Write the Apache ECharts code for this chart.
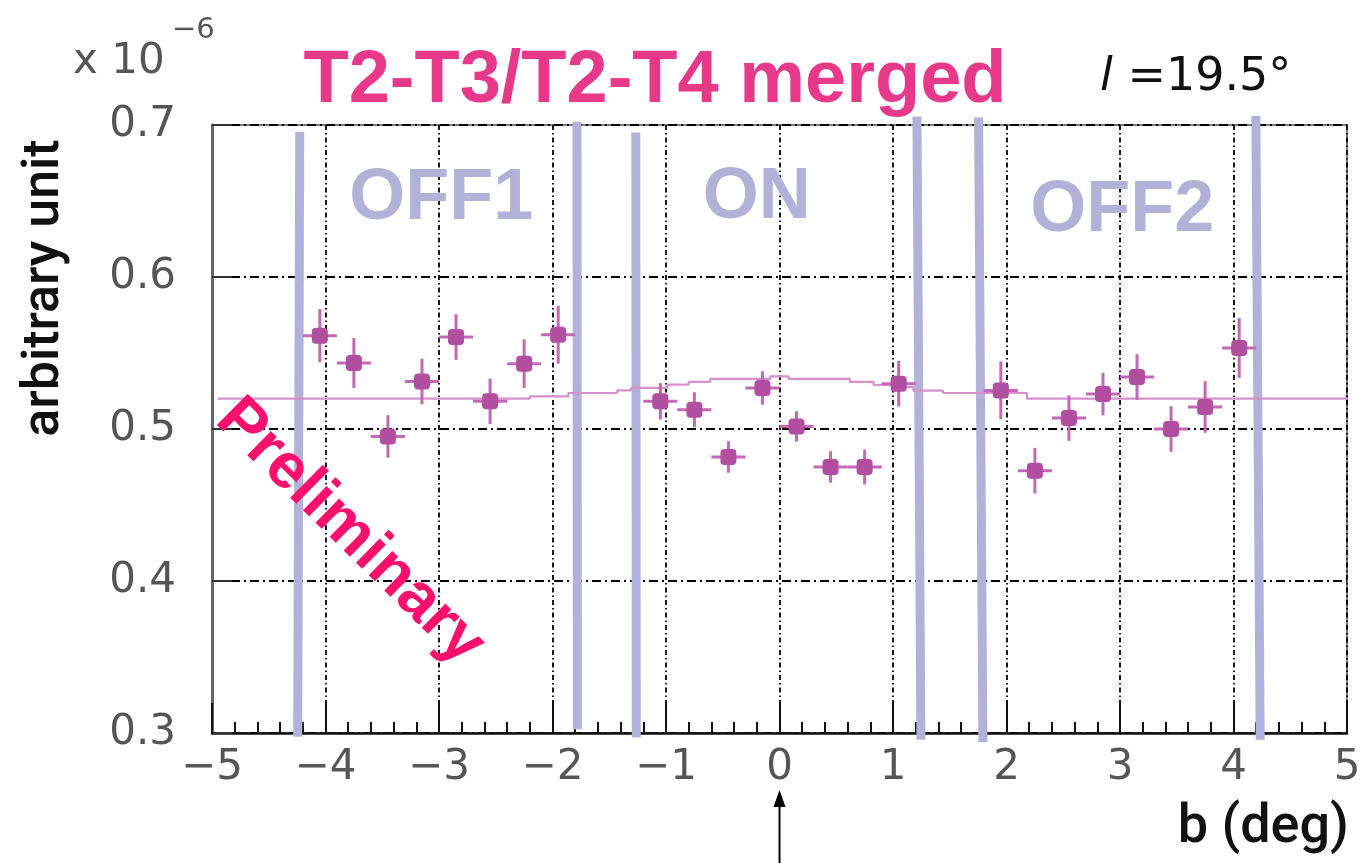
<!DOCTYPE html>
<html>
<head>
<meta charset="utf-8">
<script src="https://cdn.jsdelivr.net/npm/echarts@6/dist/echarts.min.js"></script>
<style>
html,body{margin:0;padding:0;background:#fff;}
#chart{width:1364px;height:863px;}
</style>
</head>
<body>
<div id="chart"></div>
<script>
// ---- data ----
const bCenters = [-4.05,-3.75,-3.45,-3.15,-2.85,-2.55,-2.25,-1.95,
                  -1.05,-0.75,-0.45,-0.15,0.15,0.45,0.75,1.05,
                  1.95,2.25,2.55,2.85,3.15,3.45,3.75,4.05];
const values = [0.5614,0.5434,0.4951,0.5313,0.5605,0.5182,0.5430,0.5620,
                0.5182,0.5127,0.4816,0.5270,0.5017,0.4750,0.4750,0.5298,
                0.5254,0.4726,0.5072,0.5230,0.5342,0.5000,0.5145,0.5533];
const yErrors = [0.0175,0.0164,0.0140,0.0150,0.0150,0.0150,0.0160,0.0190,
                 0.0120,0.0115,0.0104,0.0110,0.0100,0.0104,0.0115,0.0150,
                 0.0190,0.0150,0.0150,0.0140,0.0150,0.0150,0.0170,0.0197];
const xErrors = [0.15,0.15,0.15,0.15,0.15,0.15,0.15,0.15,
                 0.15,0.15,0.15,0.15,0.15,0.15,0.15,0.15,
                 0.15,0.15,0.15,0.15,0.15,0.15,0.15,0.15];
// fitted curve (histogram steps)
const fitX = [-4.95,-2.2,-1.86,-1.43,-1.31,-0.99,-0.8,-0.61,-0.08,0.08,0.62,0.83,1.0,1.18,1.44,2.18,5.0];
const fitY = [0.5200,0.5214,0.5237,0.5254,0.5270,0.5292,0.5310,0.5330,0.5346,0.5330,0.5310,0.5290,0.5276,0.5252,0.5237,0.5200,0.5200];
// region boundaries (top point, bottom point)
const boundTopX    = [-4.227,-1.784,-1.266,1.211,1.754,4.197];
const boundTopY    = [0.6955,0.7022,0.6950,0.7055,0.7050,0.7060];
const boundBottomX = [-4.245,-1.781,-1.262,1.246,1.792,4.235];
const boundBottomY = [0.2975,0.3025,0.2970,0.2955,0.2940,0.2955];
const regionNames = ['OFF1','ON','OFF2'];
const regionX = [-2.98,-0.20,3.02];
const regionY = [0.6515,0.6522,0.6430];
const xTicks = [-5,-4,-3,-2,-1,0,1,2,3,4,5];
const yTicks = [0.3,0.4,0.5,0.6,0.7];

const chart = echarts.init(document.getElementById('chart'));

const pointData = bCenters.map((x,i)=>[x, values[i], xErrors[i], yErrors[i]]);
const fitData = fitX.map((x,i)=>[x, fitY[i]]);
const boundData = boundTopX.map((x,i)=>[x, boundTopY[i], boundBottomX[i], boundBottomY[i]]);

const tickFont = 'DejaVu Sans, sans-serif';

chart.setOption({
  animation:false,
  grid:{left:212, right:17, top:125, bottom:130, show:true, borderColor:'#7a7a7a', borderWidth:2},
  xAxis:{
    type:'value', min:xTicks[0], max:xTicks[xTicks.length-1], interval:1,
    axisLine:{show:true, onZero:false, lineStyle:{color:'#111', width:2.5}},
    axisTick:{show:true, inside:true, length:30, lineStyle:{color:'#111', width:2}},
    minorTick:{show:true, splitNumber:5, length:11, lineStyle:{color:'#111', width:2}},
    splitLine:{show:true, lineStyle:{color:'#000', width:1.8, type:[5,3,1.5,3]}},
    axisLabel:{fontSize:42, color:'#555', fontFamily:tickFont, margin:14,
      formatter:v=> v<0 ? '\u2212'+(-v) : String(v)}
  },
  yAxis:{
    type:'value', min:yTicks[0], max:yTicks[yTicks.length-1], interval:0.1,
    axisLine:{show:true, onZero:false, lineStyle:{color:'#666', width:3}},
    axisTick:{show:true, inside:true, length:20, lineStyle:{color:'#333', width:2}},
    splitLine:{show:true, lineStyle:{color:'#000', width:1.8, type:[9,4,2,4]}},
    axisLabel:{fontSize:42, color:'#555', fontFamily:tickFont, margin:36,
      formatter:v=> v.toFixed(1)}
  },
  series:[
    {
      type:'custom', name:'boundaries', z:3, clip:false,
      data:boundData,
      renderItem:(params, api)=>{
        const p1 = api.coord([api.value(0), api.value(1)]);
        const p2 = api.coord([api.value(2), api.value(3)]);
        return {type:'line', shape:{x1:p1[0], y1:p1[1], x2:p2[0], y2:p2[1]},
          style:{stroke:'#b2b2d8', lineWidth:9}};
      }
    },
    {
      type:'line', name:'fit', z:4, step:'end', showSymbol:false, data:fitData,
      lineStyle:{color:'#d690cb', width:2.2}
    },
    {
      type:'custom', name:'points', z:5,
      data:pointData,
      renderItem:(params, api)=>{
        const x=api.value(0), y=api.value(1), ex=api.value(2), ey=api.value(3);
        const c=api.coord([x,y]), l=api.coord([x-ex,y]), r=api.coord([x+ex,y]);
        const t=api.coord([x,y+ey]), b=api.coord([x,y-ey]);
        const col='#b24ea0', ecol='#c467b4';
        return {type:'group', children:[
          {type:'line', shape:{x1:l[0],y1:l[1],x2:r[0],y2:r[1]}, style:{stroke:ecol, lineWidth:3}},
          {type:'line', shape:{x1:t[0],y1:t[1],x2:b[0],y2:b[1]}, style:{stroke:ecol, lineWidth:3}},
          {type:'rect', shape:{x:c[0]-8, y:c[1]-8, width:16, height:16, r:4}, style:{fill:col}}
        ]};
      }
    }
  ]
});

// annotations
const x0 = chart.convertToPixel({xAxisIndex:0}, 0);
const regionGraphics = regionNames.map((n,i)=>{
  const p = chart.convertToPixel({gridIndex:0}, [regionX[i], regionY[i]]);
  return {type:'text', z:2, x:p[0], y:p[1], style:{text:n, fill:'#b2b2d8', font:'bold 72px Liberation Sans, Arial, sans-serif', align:'center', verticalAlign:'middle'}};
});

chart.setOption({
  graphic:[
    {type:'text', x:655, y:82, style:{text:'T2-T3/T2-T4 merged', fill:'#e8388a', font:'bold 74px Liberation Sans, Arial, sans-serif', align:'center', verticalAlign:'middle'}},
    {type:'text', x:1100, y:78, style:{text:'{i|l} =19.5°', align:'left', verticalAlign:'middle', fill:'#111', font:'46px DejaVu Sans, sans-serif',
      rich:{i:{fontStyle:'italic', fontSize:46, fontFamily:'DejaVu Sans', fill:'#111'}}}},
    {type:'text', x:73, y:62, style:{text:'x 10', fill:'#555', font:'42px DejaVu Sans, sans-serif', align:'left', verticalAlign:'middle'}},
    {type:'text', x:172, y:30, style:{text:'\u22126', fill:'#555', font:'29px DejaVu Sans, sans-serif', align:'left', verticalAlign:'middle'}},
    {type:'text', x:45, y:288, rotation:Math.PI/2, style:{text:'arbitrary unit', fill:'#111', font:'500 52px Roboto, Liberation Sans, sans-serif', align:'center', verticalAlign:'middle'}},
    {type:'text', x:1349, y:828, style:{text:'b (deg)', fill:'#111', font:'500 54px Roboto, Liberation Sans, sans-serif', align:'right', verticalAlign:'middle'}},
    {type:'text', x:350, y:532, rotation:-0.78, z:10, style:{text:'Preliminary', fill:'#fe0f6e', font:'bold 64px Liberation Sans, Arial, sans-serif', align:'center', verticalAlign:'middle'}},
    {type:'line', shape:{x1:x0, y1:863, x2:x0, y2:800}, style:{stroke:'#000', lineWidth:2}},
    {type:'polygon', shape:{points:[[x0,790],[x0-6,807],[x0+6,807]]}, style:{fill:'#000'}},
    ...regionGraphics
  ]
});
</script>
</body>
</html>
